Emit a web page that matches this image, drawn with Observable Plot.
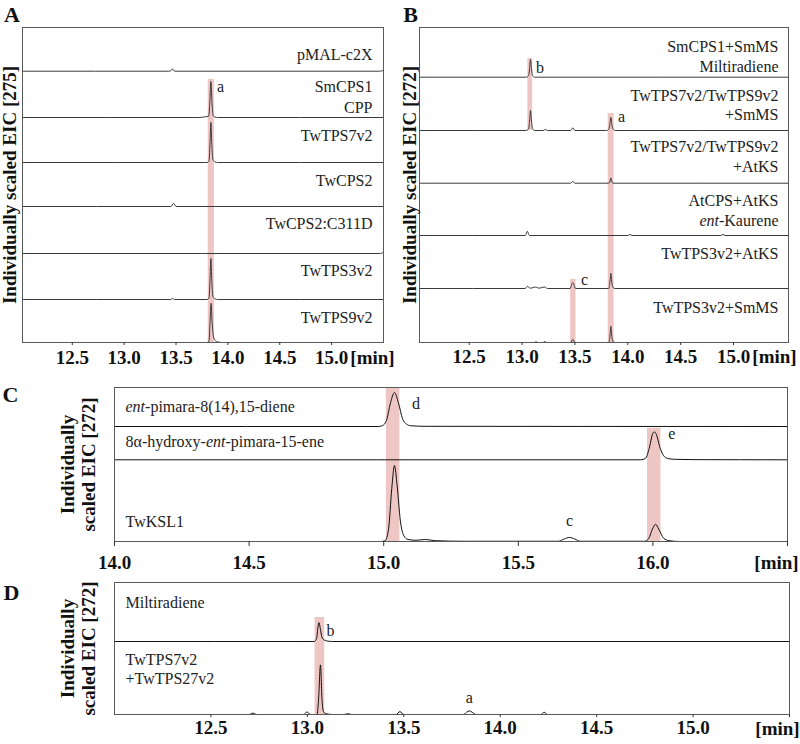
<!DOCTYPE html>
<html><head><meta charset="utf-8">
<script src="https://cdn.jsdelivr.net/npm/d3@7"></script>
<script src="https://cdn.jsdelivr.net/npm/@observablehq/plot@0.6"></script>
<style>
html,body{margin:0;padding:0;background:#fff;}
#fig{position:relative;width:800px;height:744px;overflow:hidden;background:#fff;}
#fig svg{position:absolute;overflow:visible;}
</style></head><body><div id="fig"></div>
<script>
// ================= DATA =================
// Panel A: trace names (lines) and traces as [retention time (min), relative intensity (%)]
const namesA = [["pMAL-c2X"], ["SmCPS1", "CPP"], ["TwTPS7v2"], ["TwCPS2"], ["TwCPS2:C311D"], ["TwTPS3v2"], ["TwTPS9v2"]];
const A_pMAL = [[12.02,0],[13.43,0],[13.45,1],[13.466,5],[13.48,1],[13.5,0],[15.46,0],[15.5,1.5]];
const A_SmCPS1 = [[12.02,0],[13.72,0],[13.78,1.5],[13.815,3],[13.826,35],[13.836,80],[13.846,36],[13.858,5],[13.875,1],[13.9,0],[15.5,0]];
const A_TwTPS7 = [[12.02,0],[13.8,0],[13.818,3],[13.827,40],[13.836,89],[13.845,40],[13.856,6],[13.875,1.5],[13.9,0],[15.5,0]];
const A_TwCPS2 = [[12.02,0],[13.45,0],[13.476,7],[13.5,0],[15.5,0]];
const A_C311D = [[12.02,0],[15.47,0],[15.5,3]];
const A_TwTPS3 = [[12.02,0],[13.45,0],[13.466,2.5],[13.485,0],[13.8,0],[13.818,3],[13.827,40],[13.836,91],[13.845,40],[13.856,6],[13.875,1.5],[13.9,0],[15.5,0]];
const A_TwTPS9 = [[12.02,0],[13.8,0],[13.818,3],[13.827,40],[13.838,87],[13.848,45],[13.86,14],[13.875,5],[13.9,1.5],[13.94,0],[15.5,0]];
const tracesA = [A_pMAL, A_SmCPS1, A_TwTPS7, A_TwCPS2, A_C311D, A_TwTPS3, A_TwTPS9];
const bandsA = [[13.81, 13.87]];
const peakNamesA = ["a"];
const peakTimesA = [13.93];

// Panel B
const namesB = [["SmCPS1+SmMS", "Miltiradiene"], ["TwTPS7v2/TwTPS9v2", "+SmMS"], ["TwTPS7v2/TwTPS9v2", "+AtKS"], ["AtCPS+AtKS", "ent-Kaurene"], ["TwTPS3v2+AtKS"], ["TwTPS3v2+SmMS"]];
const B_SmMS = [[12.03,0],[13.04,0],[13.062,3],[13.071,16],[13.08,34],[13.089,16],[13.1,3],[13.12,0],[15.52,0]];
const B_79SmMS = [[12.03,0],[13.04,0],[13.062,3],[13.071,18],[13.08,38],[13.089,18],[13.1,3],[13.12,0],[13.2,0],[13.22,2],[13.24,0],[13.46,0],[13.48,5],[13.5,0],[13.8,0],[13.822,3],[13.831,12],[13.84,25],[13.849,12],[13.86,3],[13.88,0],[15.52,0]];
const B_79AtKS = [[12.03,0],[13.46,0],[13.48,3.5],[13.5,0],[13.82,0],[13.833,4],[13.84,10],[13.847,4],[13.86,0],[15.52,0]];
const B_AtCPS = [[12.03,0],[13.03,0],[13.05,8],[13.07,0],[14.0,0],[14.02,2],[14.04,0],[14.88,0],[14.9,2],[14.92,0],[15.52,0]];
const B_3AtKS = [[12.03,0],[13.03,0],[13.05,4],[13.08,0.5],[13.13,3],[13.16,0.5],[13.21,3],[13.24,0],[13.455,0],[13.47,8],[13.48,11],[13.49,8],[13.505,0],[13.82,0],[13.831,12],[13.84,29],[13.849,12],[13.86,2],[13.88,0],[15.52,0]];
const B_3SmMS = [[12.03,0],[13.12,0],[13.13,1.5],[13.15,0],[13.2,0],[13.21,2],[13.23,0],[13.46,0],[13.48,6],[13.5,0],[13.82,0],[13.831,12],[13.84,31],[13.849,12],[13.86,2],[13.88,0],[15.52,0]];
const tracesB = [B_SmMS, B_79SmMS, B_79AtKS, B_AtCPS, B_3AtKS, B_3SmMS];
const bandsB = [[13.055, 13.10], [13.815, 13.87], [13.46, 13.51]];
const peakNamesB = ["b", "a", "c"];
const peakTimesB = [13.17, 13.94, 13.59];

// Panel C
const namesC = [["ent-pimara-8(14),15-diene"], ["8α-hydroxy-ent-pimara-15-ene"], ["TwKSL1"]];
const C_pim = [[14,0],[14.98,0],[14.995,2],[15.01,15],[15.025,60],[15.04,87],[15.055,60],[15.07,20],[15.085,6],[15.1,2],[15.15,0.5],[16.5,0]];
const C_hyd = [[14,0],[15.955,0],[15.972,4],[15.988,40],[15.998,76],[16.005,84],[16.013,76],[16.025,40],[16.04,12],[16.055,4],[16.08,1.5],[16.15,0.5],[16.5,0]];
const C_ksl = [[14,0],[14.99,0],[15.005,1],[15.018,15],[15.03,65],[15.04,93],[15.05,68],[15.062,25],[15.075,7],[15.09,2.5],[15.12,1.5],[15.155,2.5],[15.19,1],[15.3,0.3],[15.65,0.3],[15.67,3],[15.69,5],[15.71,3],[15.73,0.3],[15.97,0.3],[15.985,4],[15.998,15],[16.01,21],[16.022,15],[16.04,4],[16.06,1],[16.1,0],[16.5,0]];
const tracesC = [C_pim, C_hyd, C_ksl];
const bandsC = [[15.01, 15.06], [15.98, 16.03]];
const peakNamesC = ["d", "e", "c"];
const peakTimesC = [15.12, 16.07, 15.69];

// Panel D
const namesD = [["Miltiradiene"], ["TwTPS7v2", "+TwTPS27v2"]];
const D_milt = [[12,0],[13.035,0],[13.048,5],[13.055,25],[13.06,32],[13.067,22],[13.075,8],[13.085,3],[13.1,1],[13.13,0],[15.5,0]];
const D_tw = [[12,0],[12.7,0],[12.717,2],[12.735,0],[12.98,0],[12.999,3.5],[13.015,0],[13.05,0],[13.058,20],[13.068,68],[13.076,20],[13.085,3],[13.1,1],[13.13,0],[13.19,0],[13.21,1],[13.23,0],[13.46,0],[13.48,4],[13.5,0],[13.81,0],[13.825,3],[13.84,5],[13.855,3],[13.875,0],[14.21,0],[14.228,3],[14.245,0],[15.5,0]];
const tracesD = [D_milt, D_tw];
const bandsD = [[13.04, 13.09]];
const peakNamesD = ["b", "a"];
const peakTimesD = [13.12, 13.84];

// Axis ticks and their labels ("" = tick without label)
const ticksAB = [12.5, 13.0, 13.5, 14.0, 14.5, 15.0];
const tickLabelsAB = ["12.5", "13.0", "13.5", "14.0", "14.5", "15.0"];
const ticksC = [14.0, 14.5, 15.0, 15.5, 16.0, 16.5];
const tickLabelsC = ["14.0", "14.5", "15.0", "15.5", "16.0", ""];
const ticksD = [12.5, 13.0, 13.5, 14.0, 14.5, 15.0, 15.5];
const tickLabelsD = ["12.5", "13.0", "13.5", "14.0", "14.5", "15.0", ""];

// ================= LAYOUT =================
const PINK = "#eec6c4";
const FONT = "'Liberation Serif', 'Times New Roman', serif";

const panels = [
  {names: namesA, traces: tracesA, bands: bandsA, peakNames: peakNamesA, peakTimes: peakTimesA, ticks: ticksAB, tickLabels: tickLabelsAB,
   left: 0, top: 0, width: 400, height: 380, ml: 22, mr: 17, mt: 27, mb: 38, xDomain: [12.02, 15.5],
   base: [271.3, 225, 180, 136, 89, 43, 0], laneH: [45, 45, 45, 45, 45, 45, 45],
   nameOff: [[16.5], [31, 9.5], [27], [26], [30], [29], [25]], nameSide: "right", nameDx: -11,
   bandY: [[0, 263]], peakY: [256], tickSize: 3, tickDy: 7.6,
   letter: "A", letterDx: -10.5, letterDy: -12.5, title: "Individually scaled EIC [275]", titleDx: -13,
   minDx: -11, minDy: 15, lineColor: "#3a3a3a"},
  {names: namesB, traces: tracesB, bands: bandsB, peakNames: peakNamesB, peakTimes: peakTimesB, ticks: ticksAB, tickLabels: tickLabelsAB,
   left: 400, top: 0, width: 400, height: 380, ml: 19, mr: 12, mt: 27, mb: 38, xDomain: [12.03, 15.52],
   base: [265.3, 212, 159.3, 107, 54, 0], laneH: [52.5, 52.5, 52.5, 52.5, 52.5, 52.5],
   nameOff: [[30, 10], [35, 15.5], [36, 16], [35, 15], [34.5], [35]], nameSide: "right", nameDx: -10,
   bandY: [[212, 284], [0, 229], [0, 63]], peakY: [275, 225.3, 62.7], tickSize: 3, tickDy: 7,
   letter: "B", letterDx: -9, letterDy: -12.5, title: "Individually scaled EIC [272]", titleDx: -10,
   minDx: -14, minDy: 14.5, lineColor: "#3a3a3a"},
  {names: namesC, traces: tracesC, bands: bandsC, peakNames: peakNamesC, peakTimes: peakTimesC, ticks: ticksC, tickLabels: tickLabelsC,
   left: 0, top: 370, width: 800, height: 200, ml: 114, mr: 13, mt: 17, mb: 29, xDomain: [14, 16.5],
   base: [115, 81.7, 0], laneH: [39, 33.3, 81.7],
   nameOff: [[19.5], [18.3], [19.5]], nameSide: "left", nameDx: 11,
   bandY: [[0, 154], [0, 113.3]], peakY: [137.7, 107.7, 21], tickSize: 5, tickDy: 13.6,
   letter: "C", letterDx: -104, letterDy: 7.5, title: "Individually\nscaled EIC [272]", titleDx: -36.5,
   minDx: -11, minDy: 21, lineColor: "#111"},
  {names: namesD, traces: tracesD, bands: bandsD, peakNames: peakNamesD, peakTimes: peakTimesD, ticks: ticksD, tickLabels: tickLabelsD,
   left: 0, top: 575, width: 800, height: 169, ml: 114, mr: 11, mt: 7, mb: 30, xDomain: [12, 15.5],
   base: [73, 0], laneH: [59, 73],
   nameOff: [[38.5], [55, 36]], nameSide: "left", nameDx: 11,
   bandY: [[0, 97]], peakY: [84, 17], tickSize: 3, tickDy: 6.4,
   letter: "D", letterDx: -103, letterDy: 10.5, title: "Individually\nscaled EIC [272]", titleDx: -36.5,
   minDx: -12, minDy: 14, lineColor: "#111"}
];

// ================= RENDER =================
const fig = document.getElementById("fig");

function italicizeEnt(root) {
  root.querySelectorAll("text, tspan").forEach(el => {
    if (el.children.length) return;
    const s = el.textContent;
    if (!/(^|-)ent-/.test(s)) return;
    const parts = s.split(/((?:^|(?<=-))ent(?=-))/);
    el.textContent = "";
    for (const p of parts) {
      if (!p) continue;
      const t = document.createElementNS("http://www.w3.org/2000/svg", "tspan");
      if (p === "ent") t.setAttribute("font-style", "italic");
      t.textContent = p;
      el.appendChild(t);
    }
  });
}

for (const cfg of panels) {
  const H = cfg.height - cfg.mt - cfg.mb;
  const rows = [];
  cfg.traces.forEach((pts, i) => {
    for (const [t, v] of pts) rows.push({k: i, t, y: cfg.base[i] + v / 100 * cfg.laneH[i]});
  });
  const nameX = cfg.nameSide === "right" ? cfg.xDomain[1] : cfg.xDomain[0];
  const nameRows = [];
  cfg.names.forEach((lines, i) => lines.forEach((s, j) => nameRows.push({s, x: nameX, y: cfg.base[i] + cfg.nameOff[i][j]})));
  const bandRows = cfg.bands.map(([x1, x2], i) => ({x1, x2, y1: cfg.bandY[i][0], y2: cfg.bandY[i][1]}));
  const peakRows = cfg.peakNames.map((s, i) => ({s, t: cfg.peakTimes[i], y: cfg.peakY[i]}));
  const tickRows = cfg.ticks.map((t, i) => ({t, s: cfg.tickLabels[i], y0: 0, y1: -cfg.tickSize}));
  const svg = Plot.plot({
    width: cfg.width, height: cfg.height,
    marginLeft: cfg.ml, marginRight: cfg.mr, marginTop: cfg.mt, marginBottom: cfg.mb,
    x: {domain: cfg.xDomain, axis: null},
    y: {domain: [0, H], axis: null},
    style: {fontFamily: FONT, fontSize: "16px", background: "transparent", overflow: "visible"},
    marks: [
      Plot.rect(bandRows, {x1: "x1", x2: "x2", y1: "y1", y2: "y2", fill: PINK}),
      Plot.line(rows, {x: "t", y: "y", z: "k", curve: "monotone-x", stroke: cfg.lineColor, strokeWidth: 1}),
      Plot.frame({stroke: "#5a5a5a", strokeWidth: 1}),
      Plot.ruleX(tickRows, {x: "t", y1: "y0", y2: "y1", stroke: "#333", strokeWidth: 1}),
      Plot.text(tickRows, {x: "t", y: "y0", text: "s", dy: cfg.tickDy, lineAnchor: "top", textAnchor: "middle", fontSize: 19, fontWeight: "bold", fill: "#111"}),
      Plot.text(nameRows, {x: "x", y: "y", text: "s", dx: cfg.nameDx, textAnchor: cfg.nameSide === "right" ? "end" : "start", lineAnchor: "middle", fontSize: 16, fill: "#222"}),
      Plot.text(peakRows, {x: "t", y: "y", text: "s", textAnchor: "middle", lineAnchor: "middle", fontSize: 16, fill: "#222"}),
      Plot.text([cfg.letter], {frameAnchor: "top-left", dx: cfg.letterDx, dy: cfg.letterDy, textAnchor: "middle", lineAnchor: "middle", fontSize: 22, fontWeight: "bold", fill: "#111"}),
      Plot.text([cfg.title], {frameAnchor: "left", rotate: -90, dx: cfg.titleDx, textAnchor: "middle", lineAnchor: "middle", fontSize: 19, fontWeight: "bold", lineHeight: 1.1, fill: "#111"}),
      Plot.text(["[min]"], {frameAnchor: "bottom-right", dx: cfg.minDx, dy: cfg.minDy, textAnchor: "middle", lineAnchor: "middle", fontSize: 19, fontWeight: "bold", fill: "#111"})
    ]
  });
  svg.style.left = cfg.left + "px";
  svg.style.top = cfg.top + "px";
  italicizeEnt(svg);
  fig.appendChild(svg);
}
</script></body></html>
